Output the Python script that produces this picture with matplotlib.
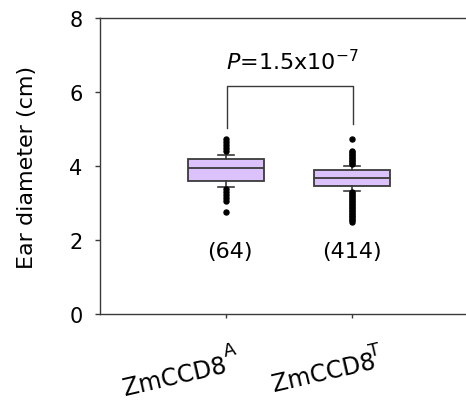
import matplotlib
matplotlib.use("Agg")
import matplotlib.pyplot as plt

plt.rcParams["font.family"] = ["DejaVu Sans"]
plt.rcParams["mathtext.fontset"] = "dejavusans"

# values (cm)
groups = ["ZmCCD8", "ZmCCD8"]
alleles = ["A", "T"]
counts = ["(64)", "(414)"]
q1 = [3.60, 3.47]
medians = [3.94, 3.68]
q3 = [4.19, 3.89]
whisker_lo = [3.44, 3.33]
whisker_hi = [4.30, 4.01]
outliers_a = [4.73, 4.65, 4.57, 4.49, 4.41,
              3.38, 3.30, 3.22, 3.14, 3.05, 2.76]
outliers_t = [4.73, 4.41, 4.37, 4.33, 4.29, 4.25, 4.21, 4.17, 4.13, 4.09, 4.05,
              3.30, 3.26, 3.22, 3.18, 3.14, 3.10, 3.06, 3.02, 2.98, 2.94, 2.90,
              2.86, 2.82, 2.78, 2.74, 2.70, 2.66, 2.62, 2.58, 2.54, 2.49]
p_text = r"$\it{P}$=1.5x10$^{-7}$"
bracket_y = 6.15
bracket_ends = [5.03, 5.14]

stats = []
for i, fl in enumerate([outliers_a, outliers_t]):
    stats.append(dict(med=medians[i], q1=q1[i], q3=q3[i],
                      whislo=whisker_lo[i], whishi=whisker_hi[i], fliers=fl))

fig = plt.figure(figsize=(4.66, 4.02), dpi=100)
ax = fig.add_axes([100 / 466, 87 / 402, 366 / 466, 296 / 402])

edge = "#3a3a3a"
ax.bxp(stats, positions=[1, 2], widths=0.6, capwidths=0.12, patch_artist=True,
       boxprops=dict(facecolor="#dcc2fa", edgecolor=edge, linewidth=1.3),
       medianprops=dict(color=edge, linewidth=1.3),
       whiskerprops=dict(color=edge, linewidth=1.2),
       capprops=dict(color=edge, linewidth=1.2),
       flierprops=dict(marker="o", markersize=3.6, markerfacecolor="black",
                       markeredgecolor="black"))

ax.set_xlim(0, 2.905)
ax.set_ylim(0, 8)
ax.set_yticks([0, 2, 4, 6, 8])
ax.set_xticks([1, 2])
ax.set_xticklabels([])
ax.tick_params(axis="y", direction="out", length=3.6, width=1, labelsize=15,
               pad=9, color=edge)
ax.tick_params(axis="x", direction="out", length=3, width=1, color=edge)
ax.spines["right"].set_visible(False)
for s in ["left", "bottom", "top"]:
    ax.spines[s].set_color(edge)
    ax.spines[s].set_linewidth(1)

# significance bracket
ax.plot([1.005, 1.005, 2.01, 2.01],
        [bracket_ends[0], bracket_y, bracket_y, bracket_ends[1]],
        color=edge, linewidth=1)
ax.text(1.53, 6.62, p_text, ha="center", va="baseline", fontsize=16)

# sample sizes
for x, c in zip([1.03, 2.0], counts):
    ax.text(x, 1.7, c, ha="center", va="center", fontsize=16)

# x category labels with superscripts
main_off = [(2, -57), (25, -53)]
sup_off = [(-1, -42), (18, -42)]
for i, (g, a) in enumerate(zip(groups, alleles)):
    ax.annotate(g, xy=(i + 1, 0), xycoords=("data", "axes fraction"),
                xytext=main_off[i], textcoords="offset pixels",
                ha="right", va="baseline", rotation=13,
                rotation_mode="anchor", fontsize=17, annotation_clip=False)
    ax.annotate(a, xy=(i + 1, 0), xycoords=("data", "axes fraction"),
                xytext=sup_off[i], textcoords="offset pixels",
                ha="left", va="baseline", rotation=13,
                rotation_mode="anchor", fontsize=13, annotation_clip=False)

fig.text(27.5 / 466, 1 - 167.5 / 402, "Ear diameter (cm)", rotation=90,
         ha="center", va="center", fontsize=16)

fig.savefig("out.png", dpi=100)
